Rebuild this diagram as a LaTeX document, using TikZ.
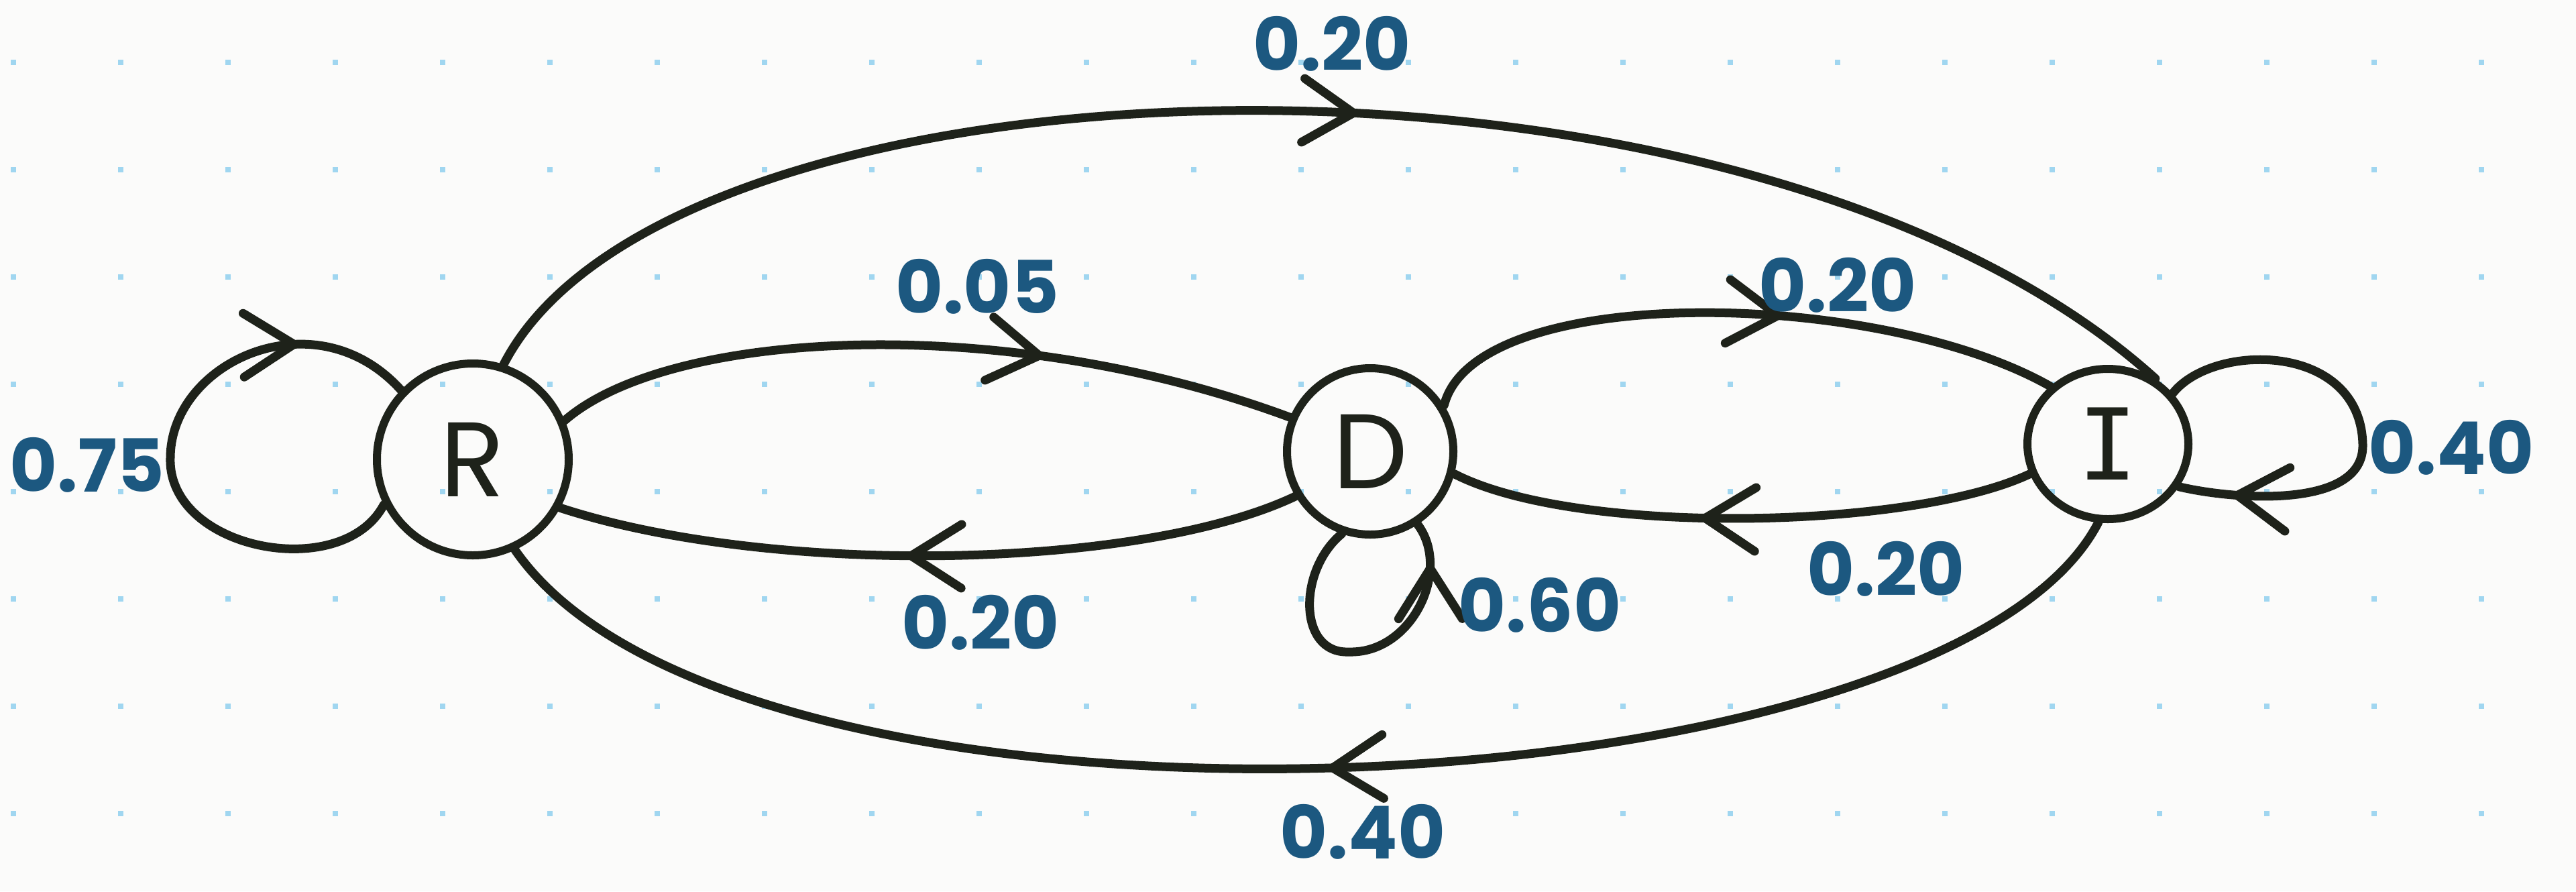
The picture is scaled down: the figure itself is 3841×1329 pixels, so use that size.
\documentclass[tikz,border=0pt]{standalone}
\usepackage{fontspec}
\setmainfont{Poppins}
\newfontfamily\monofnt{DejaVu Sans Mono}
\usetikzlibrary{arrows.meta,decorations.markings,shapes.geometric}
\definecolor{ink}{RGB}{30,34,26}
\definecolor{labblue}{RGB}{28,88,128}
\definecolor{paper}{RGB}{251,251,250}
\definecolor{dotc}{RGB}{160,214,240}
\begin{document}
\begin{tikzpicture}[x=0.1mm,y=-0.1mm,
  conn/.style={draw=ink,line width=1.3mm,line cap=round,line join=round},
  arr/.style={postaction={decorate,decoration={markings,
     mark=at position #1 with {\arrow[ink,line width=1.3mm]{Straight Barb[length=7.5mm,width=9.5mm,round]}}}}},
  statenode/.style={circle,draw=ink,line width=1.2mm,inner sep=0pt,text=ink,
     font=\fontsize{45pt}{50pt}\selectfont},
  lab/.style={text=labblue,inner sep=0pt,font=\fontsize{31pt}{36pt}\selectfont\bfseries}]
\fill[paper] (0,0) rectangle (3841,1329);
\useasboundingbox (0,0) rectangle (3841,1329);
\foreach \i in {0,...,23}{\foreach \j in {0,...,7}{
  \fill[dotc] ({16+160*\i},{89+160*\j}) rectangle ++(8,8);}}
% states
\node[statenode,minimum size=28.6mm] (R) at (705,685) {R};
\node[statenode,minimum size=24.8mm] (D) at (2043,673) {D};
\node[statenode,ellipse,minimum width=24mm,minimum height=22.4mm,
      font=\fontsize{42pt}{48pt}\selectfont\monofnt] (I) at (3143,662) {I};
% transitions
\draw[conn,arr=0.52] (R.72) .. controls (1000,60) and (2600,10) .. (I.54);
\draw[conn,arr=0.66] (R.23) .. controls (1000,490) and (1500,465) .. (D.157);
\draw[conn,arr=0.53] (D.211) .. controls (1700,850) and (1150,860) .. (R.331);
\draw[conn,arr=0.57] (D.32) .. controls (2200,420) and (2800,430) .. (I.135);
\draw[conn,arr=0.57] (I.201) .. controls (2850,790) and (2350,800) .. (D.345);
\draw[conn,arr=0.49] (I.263) .. controls (2900,1220) and (1100,1300) .. (R.295);
% self loops
\coordinate (Rl) at (254,683);
\coordinate (Db) at (2011,972);
\coordinate (Ir) at (3523,663);
\draw[conn,arr=0.8] (R.207) .. controls (510,870) and (250,820) .. (Rl)
   .. controls (254,540) and (470,440) .. (R.136);
\draw[conn,arr=0.87] (D.251) .. controls (1935,850) and (1935,975) .. (Db)
   .. controls (2105,975) and (2165,850) .. (D.303);
\draw[conn,arr=0.88] (I.38) .. controls (3300,510) and (3520,510) .. (Ir)
   .. controls (3525,760) and (3330,745) .. (I.329);
% labels
\node[lab] (pRI) at (1986,65) {0.20};
\node[lab] (pRD) at (1457,427) {0.05};
\node[lab] (pDI) at (2740,425) {0.20};
\node[lab] (pID) at (2812,848) {0.20};
\node[lab] (pDR) at (1462,928) {0.20};
\node[lab] (pIR) at (2032,1240) {0.40};
\node[lab] (pRR) at (130,693) {0.75};
\node[lab] (pDD) at (2296,902) {0.60};
\node[lab] (pII) at (3655,667) {0.40};
\end{tikzpicture}
\end{document}
